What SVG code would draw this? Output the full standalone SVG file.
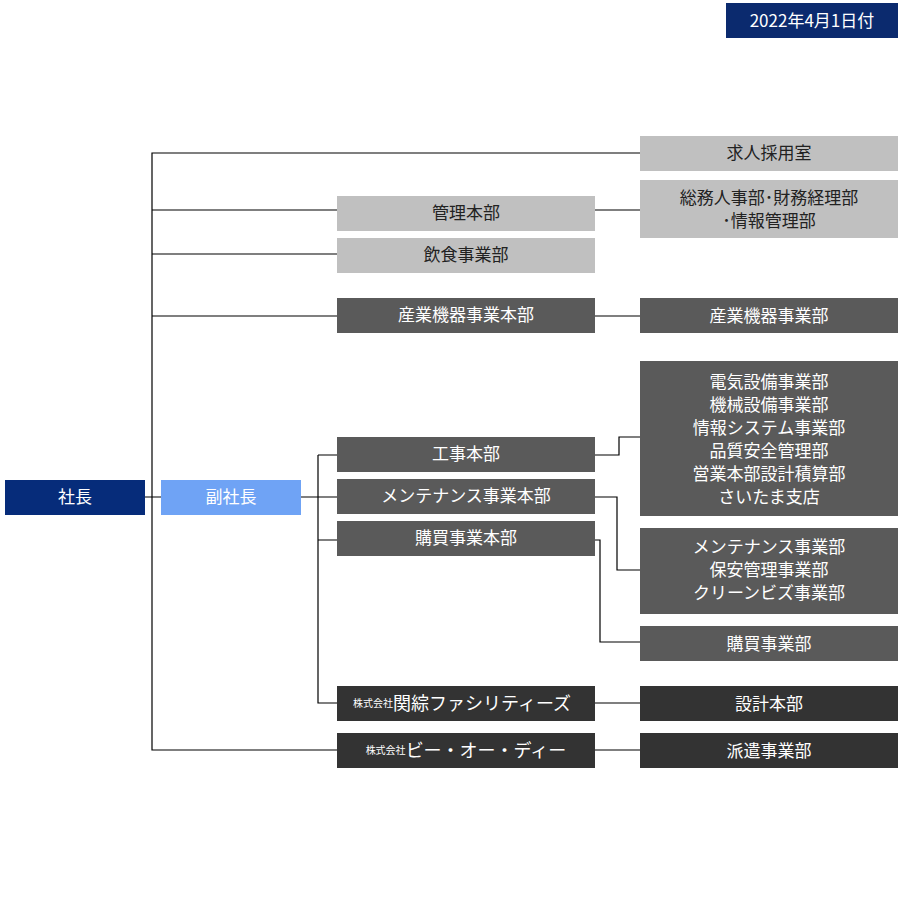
<svg xmlns="http://www.w3.org/2000/svg" width="900" height="920" viewBox="0 0 900 920">
<style>
text{font-family:"Noto Sans CJK JP","Noto Sans",sans-serif;font-size:17px;text-anchor:middle;dominant-baseline:central}
.l{fill:#c0c0c0}.m{fill:#5a5a5a}.d{fill:#333333}
.lt{fill:#222}.w{fill:#fff}
#c path{fill:none;stroke:#000;stroke-width:1.2}
</style>
<rect width="900" height="920" fill="#fff"/>
<g id="date"><rect x="726" y="3" width="172" height="35" fill="#0b2a6e"/><text x="812" y="19" class="w" font-size="15">2022年4月1日付</text></g>
<g id="c">
<path d="M640,153H152V750H337M152,210H337M152,254H337M152,316H337M595,210H640M595,316H640"/>
<path d="M128,497H161M301,497H337M318,455V703H337M318,455H337M318,540H337"/>
<path d="M595,455H619V437H640M595,497H617V570H640M595,540H600V642H640M595,703H640M595,750H640"/>
</g>
<g id="shacho"><rect x="5" y="480" width="140" height="35" fill="#062c7a"/><text x="75" y="495" class="w">社長</text></g>
<g id="fuku"><rect x="161" y="480" width="140" height="35" fill="#6fa3f5"/><text x="231" y="495" class="w">副社長</text></g>
<g id="kyujin"><rect x="640" y="136" width="258" height="35" class="l"/><text x="769" y="151" class="lt">求人採用室</text></g>
<g id="kanri"><rect x="337" y="196" width="258" height="35" class="l"/><text x="466" y="211" class="lt">管理本部</text></g>
<g id="soumu"><rect x="640" y="180" width="258" height="58" class="l"/><text x="769" y="196" class="lt">総務人事部･財務経理部</text><text x="769" y="219" class="lt">･情報管理部</text></g>
<g id="inshoku"><rect x="337" y="238" width="258" height="35" class="l"/><text x="466" y="253" class="lt">飲食事業部</text></g>
<g id="sangyo"><rect x="337" y="298" width="258" height="35" class="m"/><text x="466" y="313" class="w">産業機器事業本部</text></g>
<g id="sangyo2"><rect x="640" y="298" width="258" height="35" class="m"/><text x="769" y="314" class="w">産業機器事業部</text></g>
<g id="denki"><rect x="640" y="361" width="258" height="155" class="m"/>
<text x="769" y="380" class="w">電気設備事業部</text><text x="769" y="403" class="w">機械設備事業部</text><text x="769" y="426" class="w">情報システム事業部</text><text x="769" y="449" class="w">品質安全管理部</text><text x="769" y="472" class="w">営業本部設計積算部</text><text x="769" y="495" class="w">さいたま支店</text></g>
<g id="koji"><rect x="337" y="437" width="258" height="35" class="m"/><text x="466" y="452" class="w">工事本部</text></g>
<g id="mente"><rect x="337" y="479" width="258" height="35" class="m"/><text x="466" y="494" class="w">メンテナンス事業本部</text></g>
<g id="kobai"><rect x="337" y="521" width="258" height="35" class="m"/><text x="466" y="536" class="w">購買事業本部</text></g>
<g id="mente2"><rect x="640" y="528" width="258" height="86" class="m"/><text x="769" y="545" class="w">メンテナンス事業部</text><text x="769" y="568" class="w">保安管理事業部</text><text x="769" y="591" class="w">クリーンビズ事業部</text></g>
<g id="kobai2"><rect x="640" y="626" width="258" height="35" class="m"/><text x="769" y="642" class="w">購買事業部</text></g>
<g id="kanso"><rect x="337" y="686" width="258" height="35" class="d"/><text x="462" y="702" class="w"><tspan font-size="10">株式会社</tspan><tspan font-size="18">関綜ファシリティーズ</tspan></text></g>
<g id="sekkei"><rect x="640" y="686" width="258" height="35" class="d"/><text x="769" y="702" class="w">設計本部</text></g>
<g id="bod"><rect x="337" y="733" width="258" height="35" class="d"/><text x="466" y="749" class="w"><tspan font-size="10">株式会社</tspan><tspan font-size="18">ビー・オー・ディー</tspan></text></g>
<g id="haken"><rect x="640" y="733" width="258" height="35" class="d"/><text x="769" y="749" class="w">派遣事業部</text></g>
</svg>
